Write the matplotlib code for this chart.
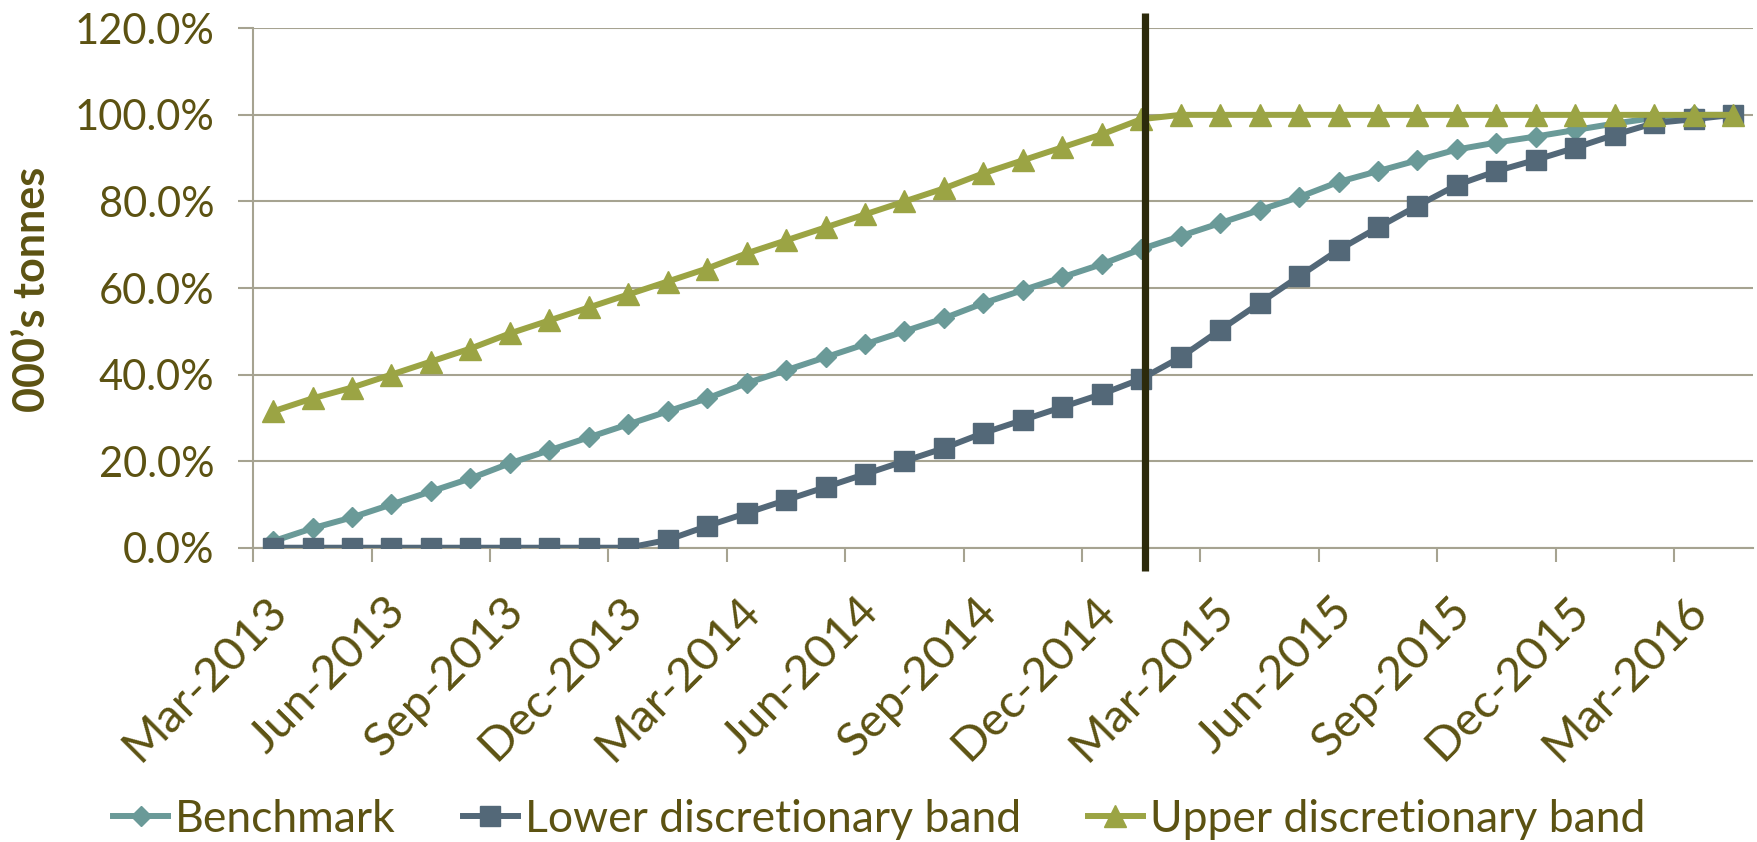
import numpy as np
import pandas as pd
import matplotlib.pyplot as plt
from matplotlib.transforms import ScaledTranslation

plt.rcParams.update({
    'font.family': ['Lato', 'DejaVu Sans'],
    'font.size': 29,
})

# monthly categories, Mar-2013 .. Apr-2016
months = pd.date_range('2013-03-01', '2016-04-01', freq='MS').strftime('%b-%Y').tolist()

benchmark = [1.5, 4.5, 7.0, 10.0, 13.0, 16.0, 19.5, 22.5, 25.5, 28.5,
             31.5, 34.5, 38.0, 41.0, 44.0, 47.0, 50.0, 53.0, 56.5, 59.5,
             62.5, 65.5, 69.0, 72.0, 75.0, 78.0, 81.0, 84.5, 87.0, 89.5,
             92.0, 93.6, 95.0, 96.5, 98.0, 99.3, 100.0, 100.0]
lower_band = [0.0, 0.0, 0.0, 0.0, 0.0, 0.0, 0.0, 0.0, 0.0, 0.0,
              1.8, 5.0, 8.0, 11.0, 14.0, 17.0, 20.0, 23.0, 26.5, 29.5,
              32.5, 35.5, 39.0, 44.0, 50.3, 56.5, 62.7, 68.8, 74.0, 79.0,
              83.8, 87.0, 89.6, 92.4, 95.4, 98.1, 99.0, 100.0]
upper_band = [31.5, 34.5, 37.0, 40.0, 43.0, 46.0, 49.5, 52.5, 55.5, 58.5,
              61.5, 64.5, 68.0, 71.0, 74.0, 77.0, 80.0, 83.0, 86.5, 89.5,
              92.5, 95.5, 99.0, 100.0, 100.0, 100.0, 100.0, 100.0, 100.0, 100.0,
              100.0, 100.0, 100.0, 100.0, 100.0, 100.0, 100.0, 100.0]

tick_labels = ['Mar-2013', 'Jun-2013', 'Sep-2013', 'Dec-2013', 'Mar-2014',
               'Jun-2014', 'Sep-2014', 'Dec-2014', 'Mar-2015', 'Jun-2015',
               'Sep-2015', 'Dec-2015', 'Mar-2016']
cutoff_month = 'Jan-2015'

TEXT = '#5C5212'
GRID = '#A6A391'
C_BENCH = '#6A9A98'
C_LOWER = '#536878'
C_UPPER = '#9BA444'

fig = plt.figure(figsize=(17.58, 8.42), dpi=100)
ax = fig.add_axes([0.1441, 0.3495, 0.853, 0.6169])

x = np.arange(len(months))
lw = 4.3
ax.plot(x, benchmark, color=C_BENCH, lw=lw, marker='D', ms=10.5,
        label='Benchmark', zorder=3)
ax.plot(x, lower_band, color=C_LOWER, lw=lw, marker='s', ms=14.5,
        label='Lower discretionary band', zorder=4)
ax.plot(x, upper_band, color=C_UPPER, lw=lw, marker='^', ms=16,
        label='Upper discretionary band', zorder=5)

# marker for the review point, running past the plot area
cut = months.index(cutoff_month) + 0.1
ax.plot([cut, cut], [-5.4, 123.6], color='#2C2A0B', lw=5.2,
        solid_capstyle='butt', clip_on=False, zorder=6)

ax.set_xlim(-0.5, len(months) - 0.5)
ax.set_ylim(0, 120)

# y axis
ax.set_yticks(np.arange(0, 121, 20))
ax.set_yticklabels([f'{v:.1f}%' for v in np.arange(0, 121, 20)])
ax.tick_params(axis='y', direction='out', length=11, width=1.5,
               color=GRID, labelcolor=TEXT, labelsize=30, pad=17)
ax.yaxis.grid(True, color=GRID, lw=1.5)
ax.set_axisbelow(True)

# x axis: ticks between categories, labels every third month
label_pos = [months.index(m) for m in tick_labels]
ax.set_xticks(np.arange(-0.5, len(months) - 1, 3))
ax.set_xticklabels([])
ax.set_xticks(label_pos, minor=True)
ax.set_xticklabels(tick_labels, minor=True)
ax.tick_params(axis='x', which='major', direction='out', length=10,
               width=1.5, color=GRID)
ax.tick_params(axis='x', which='minor', length=0, labelcolor=TEXT,
               labelsize=34, pad=30)
shift = ScaledTranslation(-0.08, 0, fig.dpi_scale_trans)
for t in ax.get_xticklabels(minor=True):
    t.set_rotation(45)
    t.set_ha('right')
    t.set_va('top')
    t.set_rotation_mode('anchor')
    t.set_transform(t.get_transform() + shift)

for side in ('top', 'right'):
    ax.spines[side].set_visible(False)
for side in ('left', 'bottom'):
    ax.spines[side].set_color(GRID)
    ax.spines[side].set_linewidth(1.5)

fig.text(0.018, 0.656, '000\u2019s tonnes', rotation=90, ha='center',
         va='center', fontsize=31, fontweight='bold', color=TEXT)

fig.legend(loc='lower center', bbox_to_anchor=(0.5, -0.045), ncol=3,
           frameon=False, fontsize=32, labelcolor=TEXT, handlelength=1.25,
           handletextpad=0.15, columnspacing=1.5, numpoints=1)

fig.savefig('out.png', dpi=100)
